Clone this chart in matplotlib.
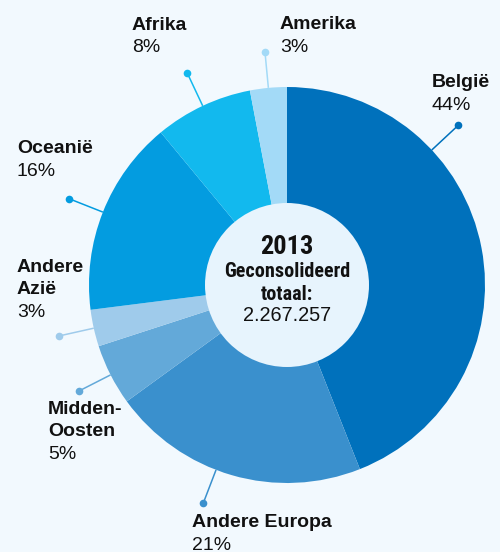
import matplotlib
matplotlib.use('Agg')
import matplotlib.pyplot as plt
import numpy as np
from matplotlib.patches import Circle
from matplotlib import font_manager

# ---- data ----
categories = ['België', 'Andere Europa', 'Midden-Oosten', 'Andere Azië', 'Oceanië', 'Afrika', 'Amerika']
label_lines = [['België'], ['Andere Europa'], ['Midden-', 'Oosten'], ['Andere', 'Azië'],
               ['Oceanië'], ['Afrika'], ['Amerika']]
shares = [44, 21, 5, 3, 16, 8, 3]
center_year = '2013'
center_title = ['Geconsolideerd', 'totaal:']
center_value = '2.267.257'

# ---- style ----
colors = ['#0071bc', '#3a90cd', '#63a9d9', '#9fcbeb', '#039ce0', '#12b9ee', '#a3daf7']
bg = '#f2f9fe'
inner_color = '#e7f4fd'
text_color = '#111111'
W, H = 500, 552
cx, cy_px, R, r_in = 287, 285, 198, 82
r_dot = 234
# label anchor (left x, first baseline y) in pixels
label_pos = [(432, 87), (192, 527), (48, 414), (17, 272), (17, 153), (132, 30), (280, 29)]
leader_angle_override = {'België': 43, 'Andere Europa': 249}
line_gap = 22.5

def Y(py):
    return H - py

installed = {f.name for f in font_manager.fontManager.ttflist}
narrow_candidates = ['Liberation Sans Narrow', 'DejaVu Sans Condensed', 'Roboto Condensed',
                     'Open Sans Condensed', 'Noto Sans Condensed']
narrow_font = next((f for f in narrow_candidates if f in installed), None)
narrow = [narrow_font, 'Liberation Sans', 'DejaVu Sans'] if narrow_font else ['Liberation Sans', 'DejaVu Sans']
title_size = 14.5 if narrow_font else 12.3
sans = ['Liberation Sans', 'DejaVu Sans']

fig = plt.figure(figsize=(W / 100, H / 100), dpi=100, facecolor=bg)
ax = fig.add_axes([0, 0, 1, 1])
ax.set_facecolor(bg)

ax.pie(shares, colors=colors, startangle=90, counterclock=False, radius=R,
       center=(cx, Y(cy_px)), wedgeprops=dict(linewidth=0))
ax.set_xlim(0, W)
ax.set_ylim(0, H)
ax.set_aspect('auto')
ax.axis('off')

ax.add_patch(Circle((cx, Y(cy_px)), r_in, facecolor=inner_color, edgecolor='none', zorder=3))

# leaders and labels
cum = np.cumsum([0] + shares[:-1])
for i, cat in enumerate(categories):
    mid = 90 - 360 * (cum[i] + shares[i] / 2) / 100
    ang = np.deg2rad(leader_angle_override.get(cat, mid))
    x0, y0 = cx + R * np.cos(ang), Y(cy_px) + R * np.sin(ang)
    x1, y1 = cx + r_dot * np.cos(ang), Y(cy_px) + r_dot * np.sin(ang)
    ax.plot([x0, x1], [y0, y1], color=colors[i], lw=1.1, solid_capstyle='butt', zorder=4)
    ax.plot([x1], [y1], 'o', color=colors[i], ms=5.5, mec='none', zorder=5)

    lx, ly = label_pos[i]
    for j, ln in enumerate(label_lines[i]):
        ax.text(lx, Y(ly + j * line_gap), ln, fontsize=14, fontweight='bold', family=sans,
                color=text_color, ha='left', va='baseline')
    ax.text(lx, Y(ly + len(label_lines[i]) * line_gap), f'{shares[i]}%', fontsize=14,
            family=sans, color=text_color, ha='left', va='baseline')

# center text
ax.text(cx, Y(254), center_year, fontsize=19, fontweight='bold', family=narrow,
        color=text_color, ha='center', va='baseline', zorder=6)
ax.text(cx, Y(277), center_title[0], fontsize=title_size, fontweight='bold', family=narrow,
        color=text_color, ha='center', va='baseline', zorder=6)
ax.text(cx, Y(300), center_title[1], fontsize=title_size, fontweight='bold', family=narrow,
        color=text_color, ha='center', va='baseline', zorder=6)
ax.text(cx, Y(321), center_value, fontsize=14.3, family=sans,
        color=text_color, ha='center', va='baseline', zorder=6)

fig.savefig('out.png', dpi=100, facecolor=bg)
